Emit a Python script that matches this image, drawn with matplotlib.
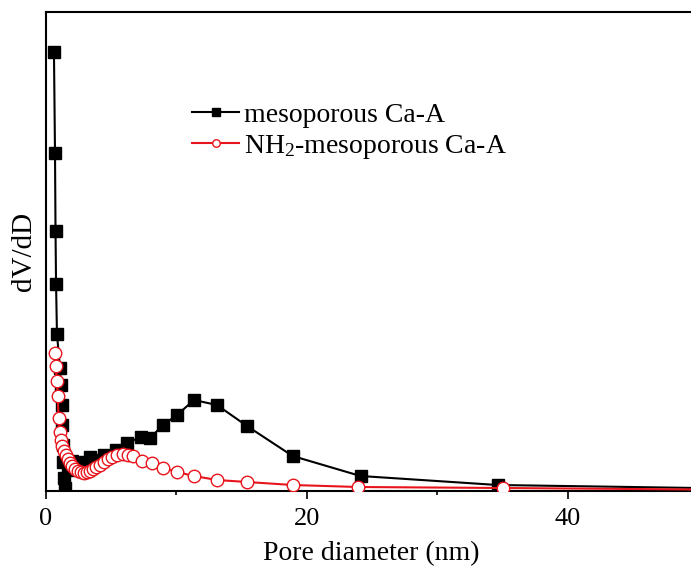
import numpy as np
import matplotlib.pyplot as plt

plt.rcParams['font.family'] = ['Liberation Serif', 'DejaVu Serif']
plt.rcParams['mathtext.fontset'] = 'custom'
plt.rcParams['mathtext.rm'] = 'Liberation Serif'
plt.rcParams['mathtext.default'] = 'regular'

# mesoporous Ca-A
x_meso = [0.61, 0.69, 0.73, 0.77, 0.84, 1.07, 1.15, 1.19, 1.23, 1.30, 1.34, 1.38, 1.46,
          1.69, 1.99, 2.30, 2.61, 2.99, 3.37, 3.83, 4.44, 5.36, 6.21, 7.28, 7.97, 8.97,
          10.04, 11.34, 13.1, 15.4, 18.9, 24.1, 34.6, 55.0]
y_meso = [0.0439, 0.0338, 0.0260, 0.0207, 0.0157, 0.0123, 0.0106, 0.0086, 0.0066, 0.0046,
          0.0029, 0.0013, 0.0003, 0.0021, 0.0030, 0.0026, 0.0023, 0.0029, 0.0034, 0.0031,
          0.0036, 0.0041, 0.0048, 0.0054, 0.0053, 0.0066, 0.0076, 0.0091, 0.0086, 0.0065,
          0.0035, 0.0015, 0.0006, 0.0002]

# NH2-mesoporous Ca-A
x_nh2 = [0.69, 0.75, 0.82, 0.90, 0.96, 1.04, 1.15, 1.26, 1.38, 1.53, 1.69, 1.84, 2.0,
         2.22, 2.45, 2.68, 2.91, 3.14, 3.37, 3.6, 3.83, 4.14, 4.45, 4.75, 5.06, 5.44,
         5.9, 6.28, 6.67, 7.36, 8.12, 8.97, 10.04, 11.34, 13.1, 15.4, 18.9, 23.9, 35.0, 55.0]
y_nh2 = [0.0138, 0.0125, 0.0110, 0.0095, 0.0073, 0.0059, 0.0051, 0.0045, 0.0040, 0.0036,
         0.0032, 0.0028, 0.0025, 0.0022, 0.0020, 0.0019, 0.0018, 0.0019, 0.0020, 0.0022,
         0.0024, 0.0026, 0.0029, 0.0032, 0.0034, 0.0036, 0.0037, 0.0036, 0.0035, 0.0030,
         0.0028, 0.0023, 0.0019, 0.0015, 0.0011, 0.0009, 0.0006, 0.0004, 0.0003, 0.0001]

fig = plt.figure(figsize=(6.91, 5.70), dpi=100)
ax = fig.add_axes([46 / 691, 79 / 570, 652.5 / 691, 479 / 570])

ax.plot(x_meso, y_meso, color='black', lw=1.5, marker='s', ms=8.5,
        label='mesoporous Ca-A', zorder=2)
ax.plot(x_nh2, y_nh2, color='#e8141c', lw=1.5, marker='o', ms=9,
        mfc='white', mec='#e8141c', mew=1.0,
        label='NH$_2$-mesoporous Ca-A', zorder=3)

ax.set_xlim(0, 50)
ax.set_ylim(0, 0.0479)
ax.set_xticks([0, 20, 40])
ax.set_xticks([10, 30], minor=True)
ax.set_yticks([])
ax.tick_params(axis='x', which='major', direction='out', length=6, width=1.2,
               labelsize=19, pad=6)
ax.tick_params(axis='x', which='minor', direction='out', length=3, width=1.2)
for s in ['left', 'bottom', 'top']:
    ax.spines[s].set_linewidth(1.5)
ax.spines['right'].set_visible(False)

ax.set_xlabel('Pore diameter (nm)', fontsize=20)
ax.xaxis.set_label_coords((371 - 46) / 652.5, -0.105)
fig.text(24 / 691, 1 - 251 / 570, 'dV/dD', rotation=90, fontsize=21,
         ha='center', va='center')

leg = ax.legend(loc='upper left', bbox_to_anchor=(0.207, 0.835), frameon=False,
                fontsize=20, markerscale=0.6, handlelength=1.7, handletextpad=0.15,
                labelspacing=0.2, borderaxespad=0)

fig.savefig('out.png', dpi=100)
